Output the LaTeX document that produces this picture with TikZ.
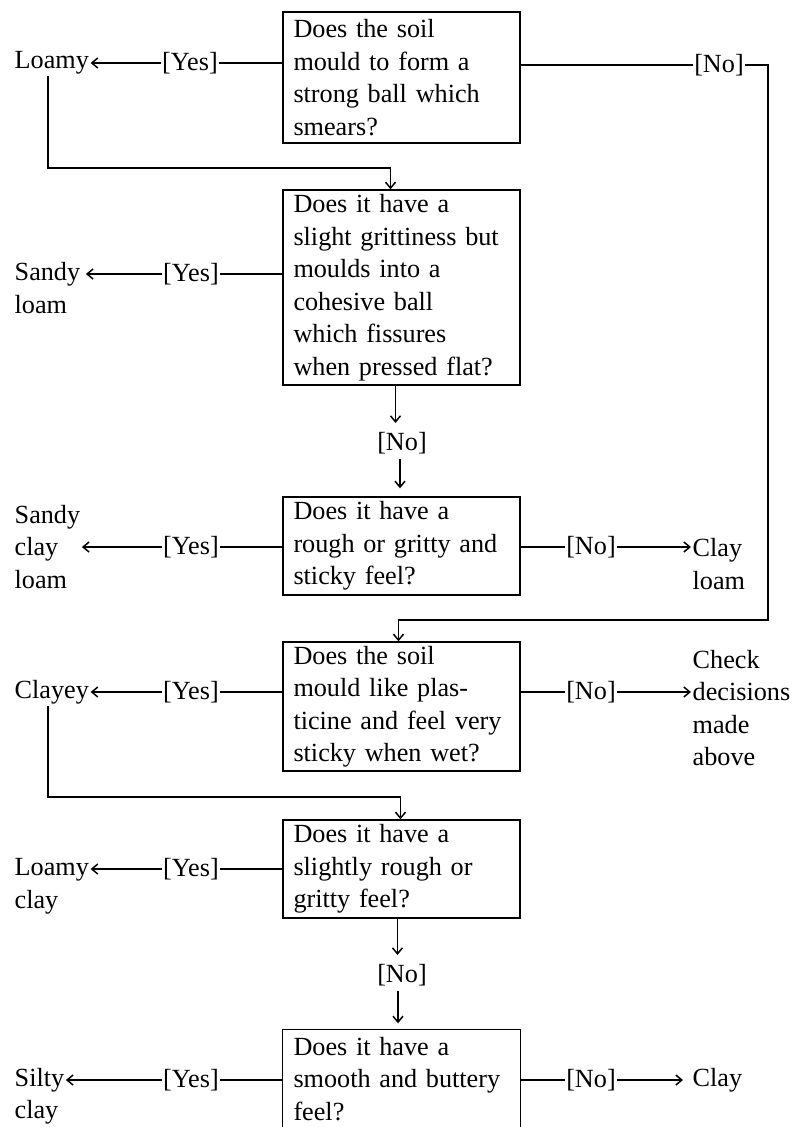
\documentclass[tikz,border=0pt]{standalone}
\usepackage{fontspec}
\setmainfont{Liberation Serif}
\usetikzlibrary{arrows.meta}
\tikzset{
  every node/.style={font=\fontsize{26.2}{32.5}\selectfont},
  qbox/.style={draw, line width=1.4pt, text width=216pt, inner xsep=10.5pt, inner ysep=0pt, align=left},
  lbl/.style={inner sep=1.5pt, align=left},
  tag/.style={inner sep=1pt},
  ln/.style={line width=1.1pt},
  arr/.style={ln, -{Straight Barb[length=6pt,width=10pt,line width=1.5pt]}},
}
\begin{document}
\begin{tikzpicture}[x=1pt,y=-1pt]
\useasboundingbox (0,0) rectangle (795,1127);

% question boxes
\node[qbox, minimum height=131pt] (q1) at (401.5,77.5) {Does the soil\\mould to form a\\strong ball which\\smears?};
\node[qbox, minimum height=195pt] (q2) at (401.5,287.5) {Does it have a\\slight grittiness but\\moulds into a\\cohesive ball\\which fissures\\when pressed flat?};
\node[qbox, minimum height=98pt] (q3) at (401.5,546) {Does it have a\\rough or gritty and\\sticky feel?};
\node[qbox, minimum height=129pt] (q4) at (401.5,706.5) {Does the soil\\mould like plas-\\ticine and feel very\\sticky when wet?};
\node[qbox, minimum height=98pt] (q5) at (401.5,869) {Does it have a\\slightly rough or\\gritty feel?};
\node[qbox, draw=none, minimum height=98pt] (q6) at (401.5,1079) {Does it have a\\smooth and buttery\\feel?};
\coordinate (pb) at (0,1127);
\draw[line width=1.4pt] (q6.north west |- pb) -- (q6.north west) -- (q6.north east) -- (q6.north east |- pb);

% outcomes (left)
\node[lbl, anchor=west] (o1) at (13,63) {Loamy};
\node[lbl, anchor=west] (o2) at (13,288) {Sandy\\loam};
\node[lbl, anchor=west] (o3) at (13,547) {Sandy\\clay\\loam};
\node[lbl, anchor=west] (o4) at (13,692) {Clayey};
\node[lbl, anchor=west] (o5) at (13,886) {Loamy\\clay};
\node[lbl, anchor=west] (o6) at (13,1096) {Silty\\clay};
% outcomes (right)
\node[lbl, anchor=west] (r3) at (691,564) {Clay\\loam};
\node[lbl, anchor=west] (r4) at (691,708) {Check\\decisions\\made\\above};
\node[lbl, anchor=west] (r6) at (691,1080) {Clay};

% yes tags
\node[tag] (y1) at (190,63) {[Yes]};
\node[tag] (y2) at (191,274) {[Yes]};
\node[tag] (y3) at (191,547) {[Yes]};
\node[tag] (y4) at (191,692) {[Yes]};
\node[tag] (y5) at (191,869) {[Yes]};
\node[tag] (y6) at (191,1080) {[Yes]};
% no tags
\node[tag] (n1) at (719,65) {[No]};
\node[tag] (n2) at (402,443) {[No]};
\node[tag] (n3) at (591,547) {[No]};
\node[tag] (n4) at (591,692) {[No]};
\node[tag] (n5) at (402,975) {[No]};
\node[tag] (n6) at (591,1080) {[No]};

% yes connectors
\draw[ln] (q1.west |- y1.east) -- (y1.east);
\draw[arr] (y1.west) -- (o1.east |- y1.west);
\draw[ln] (q2.west |- y2.east) -- (y2.east);
\draw[arr] (y2.west) -- ([xshift=4pt]o2.east |- y2.west);
\draw[ln] (q3.west |- y3.east) -- (y3.east);
\draw[arr] (y3.west) -- (o3.east |- y3.west);
\draw[ln] (q4.west |- y4.east) -- (y4.east);
\draw[arr] (y4.west) -- (o4.east |- y4.west);
\draw[ln] (q5.west |- y5.east) -- (y5.east);
\draw[arr] (y5.west) -- (o5.east |- y5.west);
\draw[ln] (q6.west |- y6.east) -- (y6.east);
\draw[arr] (y6.west) -- (o6.east |- y6.west);

% no connectors
\coordinate (c1) at (768,620);
\draw[ln] (q1.east |- n1.west) -- (n1.west);
\draw[arr] (n1.east) -- (c1 |- n1.east) -- (c1) -- ([xshift=-3pt]q4.north |- c1) -- ([xshift=-3pt]q4.north);
\draw[arr, shorten >=8pt] ([xshift=-6pt]q2.south) -- ([xshift=-6pt]q2.south |- n2.north);
\draw[arr, shorten >=8pt, shorten <=4pt] ([xshift=-2pt]n2.south) -- ([xshift=-2pt]n2.south |- q3.north);
\draw[ln] (q3.east |- n3.west) -- (n3.west);
\draw[arr] (n3.east) -- (r3.west |- n3.east);
\draw[ln] (q4.east |- n4.west) -- (n4.west);
\draw[arr] (n4.east) -- (r4.west |- n4.east);
\draw[arr, shorten >=8pt] ([xshift=-4pt]q5.south) -- ([xshift=-4pt]q5.south |- n5.north);
\draw[arr, shorten >=6pt, shorten <=4pt] ([xshift=-4pt]n5.south) -- ([xshift=-4pt]n5.south |- q6.north);
\draw[ln] (q6.east |- n6.west) -- (n6.west);
\draw[arr] (n6.east) -- ([xshift=-8pt]r6.west |- n6.east);

% loops from Loamy and Clayey
\coordinate (c2) at (48,168);
\draw[arr] (o1.south -| c2) -- (c2) -- ([xshift=-11pt]q2.north |- c2) -- ([xshift=-11pt]q2.north);
\coordinate (c3) at (48,797);
\draw[arr] (o4.south -| c3) -- (c3) -- ([xshift=-1pt]q5.north |- c3) -- ([xshift=-1pt]q5.north);
\end{tikzpicture}
\end{document}
